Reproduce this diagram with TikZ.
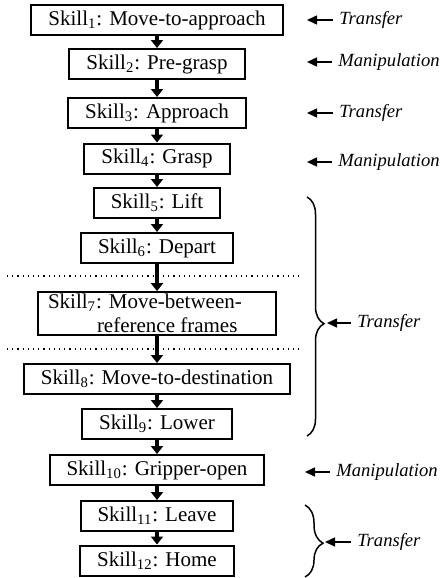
\documentclass[tikz,border=0pt]{standalone}
\usepackage{fontspec}
\setmainfont{Liberation Serif}
\usetikzlibrary{arrows.meta,decorations.pathreplacing}
\begin{document}
\begin{tikzpicture}[x=0.5pt, y=-0.5pt,
  skillbox/.style={draw, line width=1pt, inner xsep=8.5pt, inner ysep=1pt, minimum height=15pt, font=\fontsize{10.5}{12}\selectfont},
  flow/.style={-{Triangle[length=4pt,width=6pt]}, line width=1.6pt},
  kind/.style={anchor=west, inner sep=3pt, font=\fontsize{9.3}{11}\selectfont\itshape},
  pointer/.style={-{Triangle[length=5pt,width=4.5pt]}, line width=0.75pt},
  curly/.style={decorate, decoration={brace, amplitude=#1, aspect=0.53}, line width=0.75pt}]
\useasboundingbox (0,0) rectangle (444,578);
% the twelve skills
\node[skillbox] (s1) at (157,20) {Skill\textsubscript{1}: Move-to-approach};
\node[skillbox] (s2) at (157,64) {Skill\textsubscript{2}: Pre-grasp};
\node[skillbox] (s3) at (157,113) {Skill\textsubscript{3}: Approach};
\node[skillbox] (s4) at (157,158.5) {Skill\textsubscript{4}: Grasp};
\node[skillbox] (s5) at (157,203) {Skill\textsubscript{5}: Lift};
\node[skillbox] (s6) at (157,248) {Skill\textsubscript{6}: Depart};
\node[skillbox, text width=109pt, inner xsep=5pt, align=flush left] (s7) at (157,313.5) {Skill\textsubscript{7}: Move-between-\\\hspace*{24.5pt}reference frames};
\node[skillbox] (s8) at (157,379) {Skill\textsubscript{8}: Move-to-destination};
\node[skillbox] (s9) at (157,424) {Skill\textsubscript{9}: Lower};
\node[skillbox] (s10) at (157,470) {Skill\textsubscript{10}: Gripper-open};
\node[skillbox] (s11) at (157,516) {Skill\textsubscript{11}: Leave};
\node[skillbox] (s12) at (157,560.5) {Skill\textsubscript{12}: Home};
\foreach \a/\b in {s1/s2, s2/s3, s3/s4, s4/s5, s5/s6, s8/s9, s9/s10, s10/s11, s11/s12}
  \draw[flow] (\a) -- (\b);
\draw[flow, line width=2pt] (s6) -- (s7);
\draw[flow, line width=2pt] (s7) -- (s8);
% separators
\coordinate (sepA) at (7,276);
\coordinate (sepB) at (299,276);
\coordinate (sepC) at (7,349);
\coordinate (sepD) at (299,349);
\draw[dotted, line width=0.6pt] (sepA) -- (sepB);
\draw[dotted, line width=0.6pt] (sepC) -- (sepD);
% skill kinds
\node[kind] (k1) at (333,20) {Transfer};
\coordinate (k1tip) at (307,20);
\draw[pointer] (k1) -- (k1tip);
\node[kind] (k2) at (332,62) {Manipulation};
\coordinate (k2tip) at (307,62);
\draw[pointer] (k2) -- (k2tip);
\node[kind] (k3) at (333,113) {Transfer};
\coordinate (k3tip) at (307,113);
\draw[pointer] (k3) -- (k3tip);
\node[kind] (k4) at (332,162) {Manipulation};
\coordinate (k4tip) at (307,162);
\draw[pointer] (k4) -- (k4tip);
% brace over skills 5 to 9
\coordinate (b1top) at (307,197);
\coordinate (b1bot) at (307,436);
\draw[curly=8.5pt] (b1top) -- (b1bot);
\coordinate (b1tip) at (327,323);
\node[kind] (k5) at (351,323) {Transfer};
\draw[pointer] (k5) -- (b1tip);
\node[kind] (k10) at (330,472) {Manipulation};
\coordinate (k10tip) at (305,472);
\draw[pointer] (k10) -- (k10tip);
% brace over skills 11 and 12
\coordinate (b2top) at (305,505);
\coordinate (b2bot) at (305,577);
\draw[curly=9pt] (b2top) -- (b2bot);
\coordinate (b2tip) at (325,542);
\node[kind] (k11) at (351,542) {Transfer};
\draw[pointer] (k11) -- (b2tip);
\end{tikzpicture}
\end{document}
